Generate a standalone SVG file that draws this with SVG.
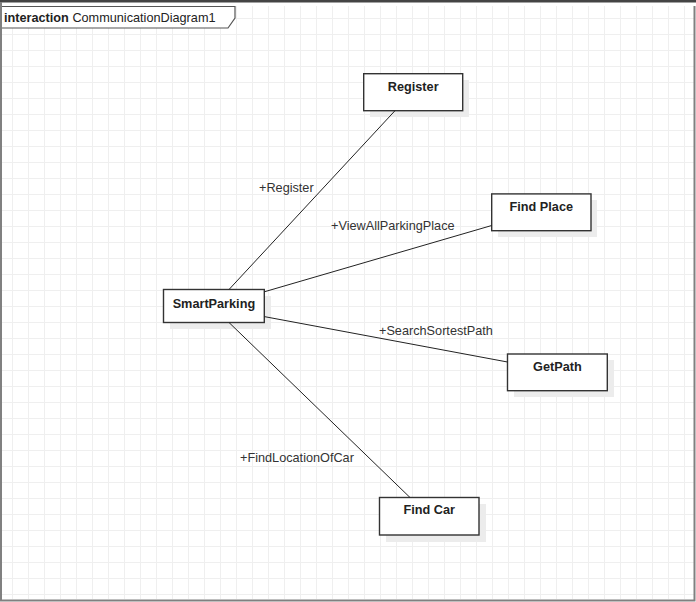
<svg xmlns="http://www.w3.org/2000/svg" width="696" height="602" viewBox="0 0 696 602">
<defs>
<pattern id="grid" x="12" y="2" width="16" height="16" patternUnits="userSpaceOnUse">
<path d="M0.5 0V16M0 0.5H16" fill="none" stroke="#efefef" stroke-width="1"/>
</pattern>
</defs>
<style>
.box{fill:#fff;stroke:#333;stroke-width:1.4}
.shadow{fill:#ececec}
.name{font-family:"Liberation Sans",Arial,sans-serif;font-size:12.7px;font-weight:bold;fill:#222;text-anchor:middle}
.lbl{font-family:"Liberation Sans",Arial,sans-serif;font-size:12.7px;fill:#333}
.conn{stroke:#222;stroke-width:1;fill:none}
</style>
<rect width="696" height="602" fill="#fff"/>
<rect x="2" y="6" width="692" height="593" fill="url(#grid)"/>
<g id="frame">
<rect x="0" y="0" width="696" height="2.5" fill="#444"/>
<path d="M1 2V600.5H694.5V6" fill="none" stroke="#808080" stroke-width="2"/>
<path d="M2 6.5H235V18L228 28H2" fill="#fff" stroke="#555" stroke-width="1.2"/>
<text x="4" y="22" font-family="Liberation Sans, Arial, sans-serif" font-size="12.7" fill="#222"><tspan font-weight="bold">interaction</tspan> CommunicationDiagram1</text>
</g>
<g id="node-register">
<rect class="shadow" x="370" y="80" width="99" height="37"/>
<rect class="box" x="363.7" y="73.7" width="99" height="37"/>
<text class="name" x="413.2" y="91">Register</text>
</g>
<g id="node-findplace">
<rect class="shadow" x="498" y="200" width="99" height="37"/>
<rect class="box" x="491.7" y="193.9" width="99.3" height="36.8"/>
<text class="name" x="541.3" y="211">Find Place</text>
</g>
<g id="node-getpath">
<rect class="shadow" x="514" y="360" width="100" height="37"/>
<rect class="box" x="507.5" y="354" width="99.8" height="36.7"/>
<text class="name" x="557.4" y="371">GetPath</text>
</g>
<g id="node-findcar">
<rect class="shadow" x="386" y="504" width="100" height="38"/>
<rect class="box" x="379.5" y="497.5" width="99.5" height="37.5"/>
<text class="name" x="429.2" y="514.3">Find Car</text>
</g>
<g id="node-smartparking">
<rect class="shadow" x="170" y="296" width="101" height="33"/>
<rect class="box" x="163.5" y="289.5" width="100.8" height="33"/>
<text class="name" x="213.9" y="307.7">SmartParking</text>
</g>
<g id="connectors">
<line class="conn" x1="229" y1="289.5" x2="395" y2="110.7"/>
<line class="conn" x1="264.3" y1="291.8" x2="491.7" y2="225.5"/>
<line class="conn" x1="264.3" y1="316.6" x2="507.5" y2="362"/>
<line class="conn" x1="229" y1="322.5" x2="410" y2="497.5"/>
<text class="lbl" x="259" y="191.7">+Register</text>
<text class="lbl" x="331" y="230">+ViewAllParkingPlace</text>
<text class="lbl" x="379" y="335">+SearchSortestPath</text>
<text class="lbl" x="240" y="461.7">+FindLocationOfCar</text>
</g>
</svg>
